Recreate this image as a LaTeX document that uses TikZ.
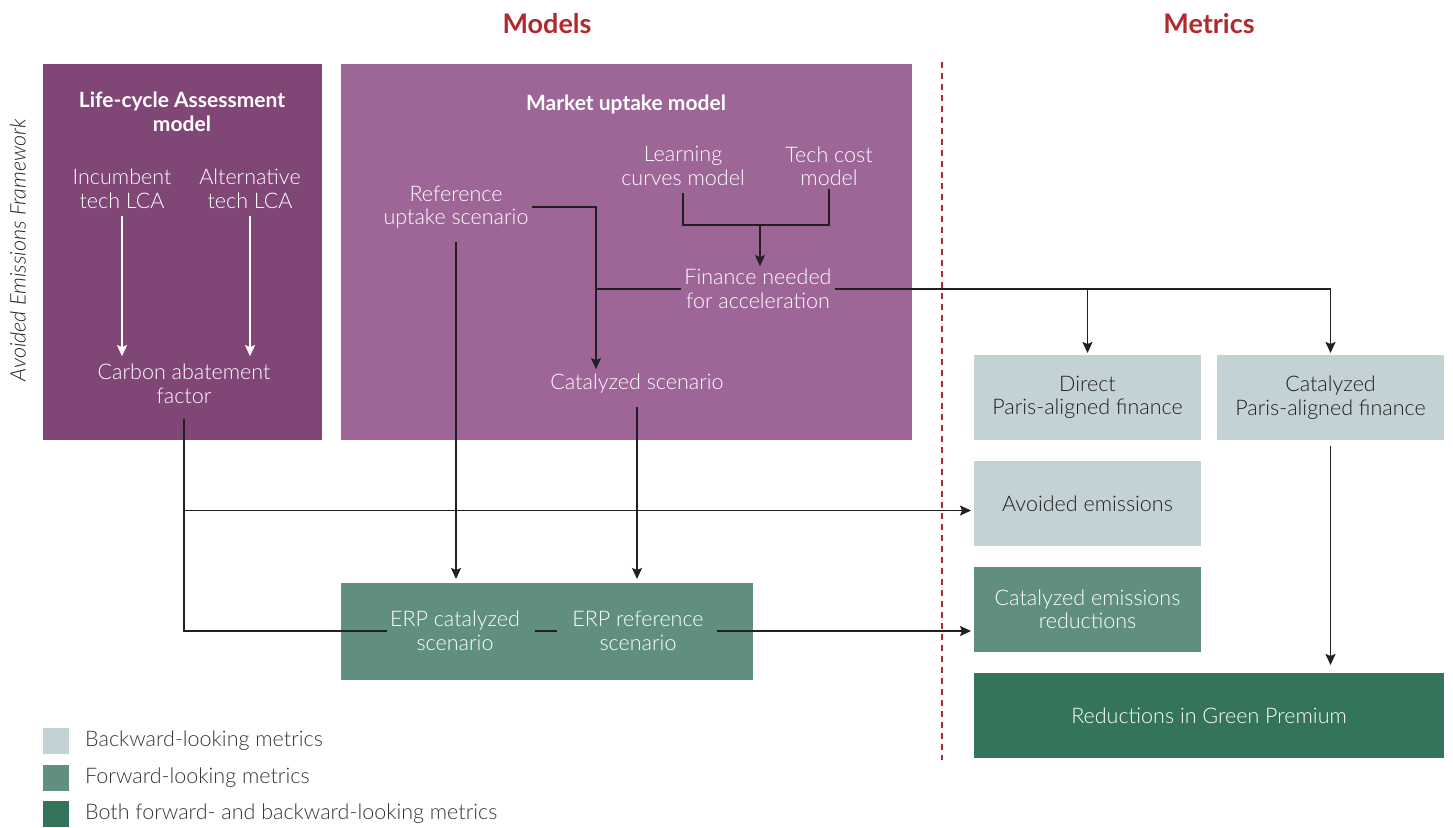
\documentclass[tikz,border=0pt]{standalone}
\usepackage{fontspec}
\setmainfont{Lato}[UprightFont=* Light, BoldFont=* Bold]
\usetikzlibrary{arrows.meta,positioning}

\definecolor{lcapurple}{HTML}{7F4676}
\definecolor{mktpurple}{HTML}{9E6697}
\definecolor{backcol}{HTML}{C2D2D5}
\definecolor{fwdcol}{HTML}{618F7F}
\definecolor{bothcol}{HTML}{33745A}
\definecolor{hdrred}{HTML}{B3282D}
\definecolor{ink}{HTML}{231F20}

\newcommand{\bodyfont}{\fontsize{21.5}{23.5}\selectfont}

\tikzset{
  panel/.style={inner sep=0pt, outer sep=0pt, anchor=north west},
  metric/.style={panel, minimum width=227, minimum height=85, align=center, font=\bodyfont},
  txt/.style={align=center, text=white, font=\bodyfont, inner sep=3pt},
  ttl/.style={align=center, text=white, font=\fontsize{21}{23.5}\selectfont\bfseries, inner sep=3pt},
  hdr/.style={text=hdrred, font=\fontsize{27}{30}\selectfont\bfseries},
  line/.style={draw=ink, line width=1.6pt},
  arr/.style={line, -{Stealth[length=11pt,width=10pt,inset=2pt]}},
  legsq/.style={panel, minimum width=26, minimum height=26},
  legtxt/.style={text=ink!90, font=\bodyfont, inner sep=0pt}
}

\begin{document}
\begin{tikzpicture}[x=1pt,y=-1pt]
\useasboundingbox (0,0) rectangle (1453,827);

% headers and divider
\node[hdr] (models) at (547,24) {Models};
\node[hdr] (metrics) at (1209,24) {Metrics};
\draw[hdrred, line width=2pt, dash pattern=on 6pt off 5pt] (942,62) -- (942,760);
\node[rotate=90, font=\bodyfont\itshape, text=ink] (aef) at (18,250) {Avoided Emissions Framework};

% model panels
\node[panel, fill=lcapurple, minimum width=279, minimum height=376] (lca) at (43,64) {};
\node[panel, fill=mktpurple, minimum width=571, minimum height=376] (mkt) at (341,64) {};
\node[panel, fill=fwdcol, minimum width=412, minimum height=97] (erp) at (341,583) {};

\node[ttl] (lcattl) at (182,112) {Life-cycle Assessment\\model};
\node[txt] (inc) at (122,189) {Incumbent\\tech LCA};
\node[txt] (alt) at (250,189) {Alternative\\tech LCA};
\node[txt] (cab) at (184,384) {Carbon abatement\\factor};

\node[ttl] (mktttl) at (626,104) {Market uptake model};
\node[txt] (lcm) at (683,166) {Learning\\curves model};
\node[txt] (tcm) at (829,166) {Tech cost\\model};
\node[txt] (fin) at (758,289) {Finance needed\\for acceleration};
\node[txt] (ref) at (456,207) {Reference\\uptake scenario};
\node[txt] (cat) at (637,384) {Catalyzed scenario};

\node[txt] (erpc) at (455,631) {ERP catalyzed\\scenario};
\node[txt] (erpr) at (638,631) {ERP reference\\scenario};

% metric boxes
\node[metric, fill=backcol, text=ink] (dpf) at (974,355) {Direct\\Paris-aligned finance};
\node[metric, fill=backcol, text=ink] (cpf) at (1217,355) {Catalyzed\\Paris-aligned finance};
\node[metric, fill=backcol, text=ink] (ave) at (974,461) {Avoided emissions};
\node[metric, fill=fwdcol, text=white] (cer) at (974,567) {Catalyzed emissions\\reductions};
\node[metric, fill=bothcol, text=white, minimum width=470] (rgp) at (974,673) {Reductions in Green Premium};

% connectors
\draw[arr, draw=white, shorten <=4pt, shorten >=5pt] (inc.south) -- (inc.south |- cab.north);
\draw[arr, draw=white, shorten <=4pt, shorten >=5pt] (alt.south) -- (alt.south |- cab.north);
\draw[line, shorten <=12pt] (cab.south) -- (cab.south |- erpc.west) -- (erpc.west);
\coordinate (avin) at ([yshift=-7pt]ave.west);
\draw[arr, shorten >=3pt] (cab.south |- avin) -- (avin);

\coordinate (jm) at (760,225);
\draw[line, shorten <=4pt] (lcm.south) |- (jm) -| (tcm.south);
\draw[arr] (jm) -- (jm |- fin.north);
\coordinate (jr) at (596,199);
\draw[arr, shorten >=2pt] (ref.east) -| (jr |- cat.north);
\draw[line] (fin.west) -- (fin.west -| jr);
\draw[arr, shorten <=10pt, shorten >=4pt] (ref.south) -- (ref.south |- erp.north);
\draw[arr, shorten <=10pt, shorten >=4pt] (cat.south) -- (cat.south |- erp.north);
\draw[line, shorten <=12pt, shorten >=12pt] (erpc) -- (erpr);
\draw[arr, shorten <=10pt, shorten >=3pt] (erpr.east) -- (erpr.east -| cer.west);
\draw[arr, shorten >=2pt] (fin.east) -| (cpf.north);
\draw[arr, shorten >=2pt] (fin.east -| dpf.north) -- (dpf.north);
\draw[arr, shorten <=6pt, shorten >=8pt] (cpf.south) -- (cpf.south |- rgp.north);

% legend
\node[legsq, fill=backcol] (lg1) at (43,728) {};
\node[legsq, fill=fwdcol] (lg2) at (43,765) {};
\node[legsq, fill=bothcol] (lg3) at (43,801) {};
\node[legtxt, right=16pt of lg1] (lt1) {Backward-looking metrics};
\node[legtxt, right=16pt of lg2] (lt2) {Forward-looking metrics};
\node[legtxt, right=16pt of lg3] (lt3) {Both forward- and backward-looking metrics};
\end{tikzpicture}
\end{document}
